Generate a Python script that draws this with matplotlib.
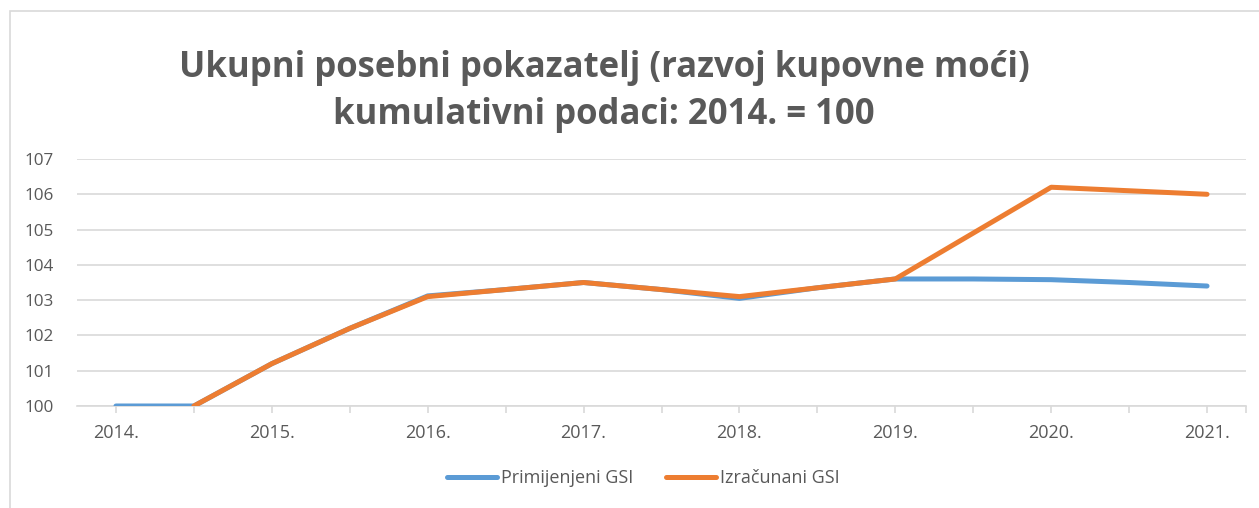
import matplotlib
matplotlib.use("Agg")
from matplotlib import pyplot as plt
from matplotlib.patches import Rectangle

# podaci (polugodisnje tocke, oznake samo za godine)
godine = ['2014.', '2015.', '2016.', '2017.', '2018.', '2019.', '2020.', '2021.']
primijenjeni = [100, 100, 101.2, 102.2, 103.12, 103.3, 103.5, 103.3, 103.05, 103.35,
                103.6, 103.6, 103.58, 103.5, 103.4]
izracunani = [None, 100, 101.2, 102.2, 103.1, 103.3, 103.5, 103.3, 103.1, 103.35,
              103.6, 104.9, 106.2, 106.1, 106.0]

siva = '#595959'
plt.rcParams['font.family'] = ['Open Sans', 'DejaVu Sans']

fig = plt.figure(figsize=(12.59, 5.08), dpi=100)
ax = fig.add_axes([77/1259, 1-406/508, (1246-77)/1259, (406-159)/508])

x1 = list(range(len(primijenjeni)))
ax.plot(x1, primijenjeni, color='#5b9bd5', lw=3.6, solid_capstyle='round',
        solid_joinstyle='round', label='Primijenjeni GSI', zorder=3)
x2 = [i for i, v in enumerate(izracunani) if v is not None]
y2 = [v for v in izracunani if v is not None]
ax.plot(x2, y2, color='#ed7d31', lw=3.6, solid_capstyle='round',
        solid_joinstyle='round', label='Izračunani GSI', zorder=4)

ax.set_xlim(-0.5, 14.5)
ax.set_ylim(100, 107)
ax.set_yticks(range(100, 108))
ax.set_xticks(range(0, 15, 2))
ax.set_xticklabels(godine)
ax.set_xticks(list(range(1, 15, 2)) + [14.5], minor=True)
ax.grid(axis='y', color='#d9d9d9', lw=1.2)
ax.set_axisbelow(True)
for s in ['top', 'right', 'left']:
    ax.spines[s].set_visible(False)
ax.spines['bottom'].set_color('#d9d9d9')
ax.spines['bottom'].set_linewidth(1.2)
ax.tick_params(axis='y', length=0, pad=17, labelsize=12.3, labelcolor=siva)
ax.tick_params(axis='x', which='both', length=5, width=1.2, color='#d9d9d9',
               pad=8, labelsize=13, labelcolor=siva)

fig.text(604/1259, 1-68/508, 'Ukupni posebni pokazatelj (razvoj kupovne moći)',
         ha='center', va='center', fontsize=25, fontweight='bold', color=siva)
fig.text(604/1259, 1-115/508, 'kumulativni podaci: 2014. = 100',
         ha='center', va='center', fontsize=25, fontweight='bold', color=siva)

fig.legend(loc='center', bbox_to_anchor=(643/1259, 1-478/508), ncol=2, frameon=False,
           fontsize=13, labelcolor=siva, handlelength=2.8, handletextpad=0.2,
           columnspacing=1.8)

# okvir grafikona
fig.add_artist(Rectangle((10/1259, -0.1), 1.2, 1-11/508+0.1, transform=fig.transFigure,
                         fill=False, edgecolor='#d9d9d9', lw=1.2))

fig.savefig('out.png', dpi=100)
